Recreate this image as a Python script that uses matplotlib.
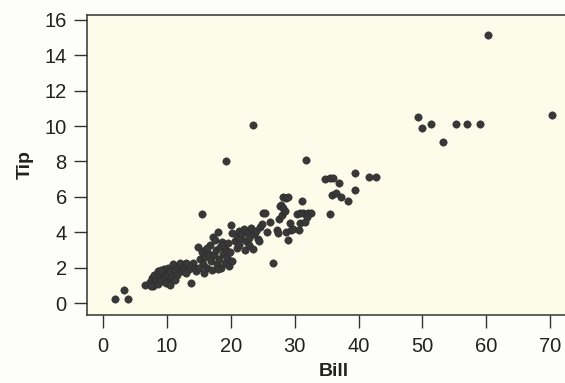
import matplotlib
matplotlib.use("Agg")
import matplotlib.pyplot as plt

# Restaurant bills (dollars) and the tips left on them
BILL = [
    1.8, 3.8, 3.3,
    6.6, 7.3, 7.6, 7.8, 8.0, 8.3, 8.5, 8.6, 8.9, 9.1, 9.3, 9.5, 9.6, 9.8,
    10.0, 10.2, 10.4, 10.6, 10.8, 11.0, 11.2, 11.5, 11.8, 12.0, 12.3, 12.6,
    13.0, 13.4, 13.8, 14.1, 14.4, 12.9, 9.0, 7.5, 10.5, 11.3,
    14.6, 14.9, 15.2, 15.5, 15.6, 15.9, 16.0, 16.3, 16.5, 16.7, 16.9, 17.0,
    17.2, 17.5, 17.3, 17.6, 17.8, 18.0, 18.1, 18.3, 18.5, 18.6, 18.8, 19.0,
    19.2, 19.4, 19.7, 19.9, 20.2, 15.0, 16.2, 17.9, 18.9, 15.8, 19.5, 15.5,
    20.0, 20.1, 20.6, 20.9, 21.0, 21.3, 21.5, 21.8, 22.0, 22.2, 22.3, 22.6,
    22.9, 23.2, 23.5, 23.6, 23.9, 24.2, 24.4, 24.6, 24.8, 21.2, 22.8,
    25.1, 25.3, 25.7, 26.1, 26.6, 27.2, 27.4, 27.5, 27.7, 27.9, 28.0, 28.2,
    28.5, 28.1, 28.7, 29.0, 29.0, 28.7, 29.3, 29.4, 29.8,
    30.6, 30.8, 30.4, 30.9, 31.3, 31.7, 32.1, 32.6, 31.9, 31.6, 31.1, 31.7,
    34.75, 35.5, 36.05, 37.0, 39.45, 41.6, 42.8, 39.5, 38.4, 35.8, 36.5,
    37.2, 35.5,
    19.3, 23.4, 49.3, 49.9, 51.4, 53.3, 55.3, 57.0, 59.0, 60.25, 70.3,
]
TIP = [
    0.24, 0.24, 0.75,
    1.03, 1.2, 1.45, 1.0, 1.6, 1.3, 1.1, 1.8, 1.5, 1.25, 1.7, 1.95, 1.4, 1.15,
    1.6, 2.0, 1.8, 1.35, 1.55, 2.2, 1.9, 1.6, 2.05, 2.25, 1.85, 2.0,
    2.3, 1.95, 1.17, 2.3, 2.0, 1.7, 1.9, 0.95, 1.05, 1.3,
    1.8, 3.2, 2.5, 2.9, 2.2, 3.0, 2.6, 2.0, 2.8, 3.3, 2.4, 1.9,
    3.76, 3.58, 2.7, 3.0, 2.2, 4.0, 2.5, 3.2, 2.0, 3.48, 2.8, 2.3,
    3.0, 2.6, 2.1, 2.9, 2.4, 2.0, 3.1, 1.95, 3.3, 1.7, 3.4, 5.04,
    4.42, 3.99, 3.5, 3.11, 3.8, 4.1, 3.6, 3.9, 4.2, 3.01, 3.5, 4.0,
    3.7, 4.25, 3.05, 3.9, 4.1, 3.6, 3.52, 4.3, 4.46, 3.3, 3.3,
    5.08, 5.08, 4.05, 4.61, 2.26, 4.14, 3.99, 4.75, 5.5, 5.55, 4.99, 5.37,
    5.18, 6.02, 5.93, 6.02, 3.55, 4.05, 4.52, 4.14, 4.2,
    4.14, 4.52, 5.05, 5.1, 5.1, 5.05, 5.08, 5.1, 4.85, 4.61, 5.76, 8.1,
    7.02, 7.06, 7.06, 6.78, 7.34, 7.12, 7.1, 6.37, 5.76, 6.12, 6.22,
    6.02, 5.06,
    8.0, 10.03, 10.49, 9.87, 10.09, 9.11, 10.11, 10.11, 10.13, 15.14, 10.62,
]

X_TICKS = [0, 10, 20, 30, 40, 50, 60, 70]
Y_TICKS = [0, 2, 4, 6, 8, 10, 12, 14, 16]

plt.rcParams["font.family"] = ["Liberation Sans", "DejaVu Sans"]

fig = plt.figure(figsize=(5.65, 3.83), dpi=100)
fig.patch.set_facecolor("#fdfdfb")
# axes run a little past the right edge so only left/top/bottom frame shows
ax = fig.add_axes([87 / 565, 68 / 383, 493 / 565, 300.3 / 383])
ax.set_facecolor("#fdfbe9")

ax.scatter(BILL, TIP, s=28, color="#383838", edgecolors="#2a2a2a",
           linewidths=0.4, zorder=3)

ax.set_xlim(-2.55, 74.7)
ax.set_ylim(-0.66, 16.28)
ax.set_xticks(X_TICKS)
ax.set_yticks(Y_TICKS)

for side in ["left", "top", "bottom"]:
    ax.spines[side].set_color("#333333")
    ax.spines[side].set_linewidth(1.1)
ax.spines["right"].set_visible(False)

ax.tick_params(axis="both", direction="out", length=9.5, width=1.0,
               color="#333333", labelsize=14.5, labelcolor="#222222")
ax.tick_params(axis="x", pad=6.5)
ax.tick_params(axis="y", pad=5)

ax.set_xlabel("Bill", fontsize=14, fontweight="bold", color="#222222",
              labelpad=5)
ax.set_ylabel("Tip", fontsize=14, fontweight="bold", color="#222222",
              labelpad=8)

fig.savefig("out.png", dpi=100, facecolor=fig.get_facecolor())
